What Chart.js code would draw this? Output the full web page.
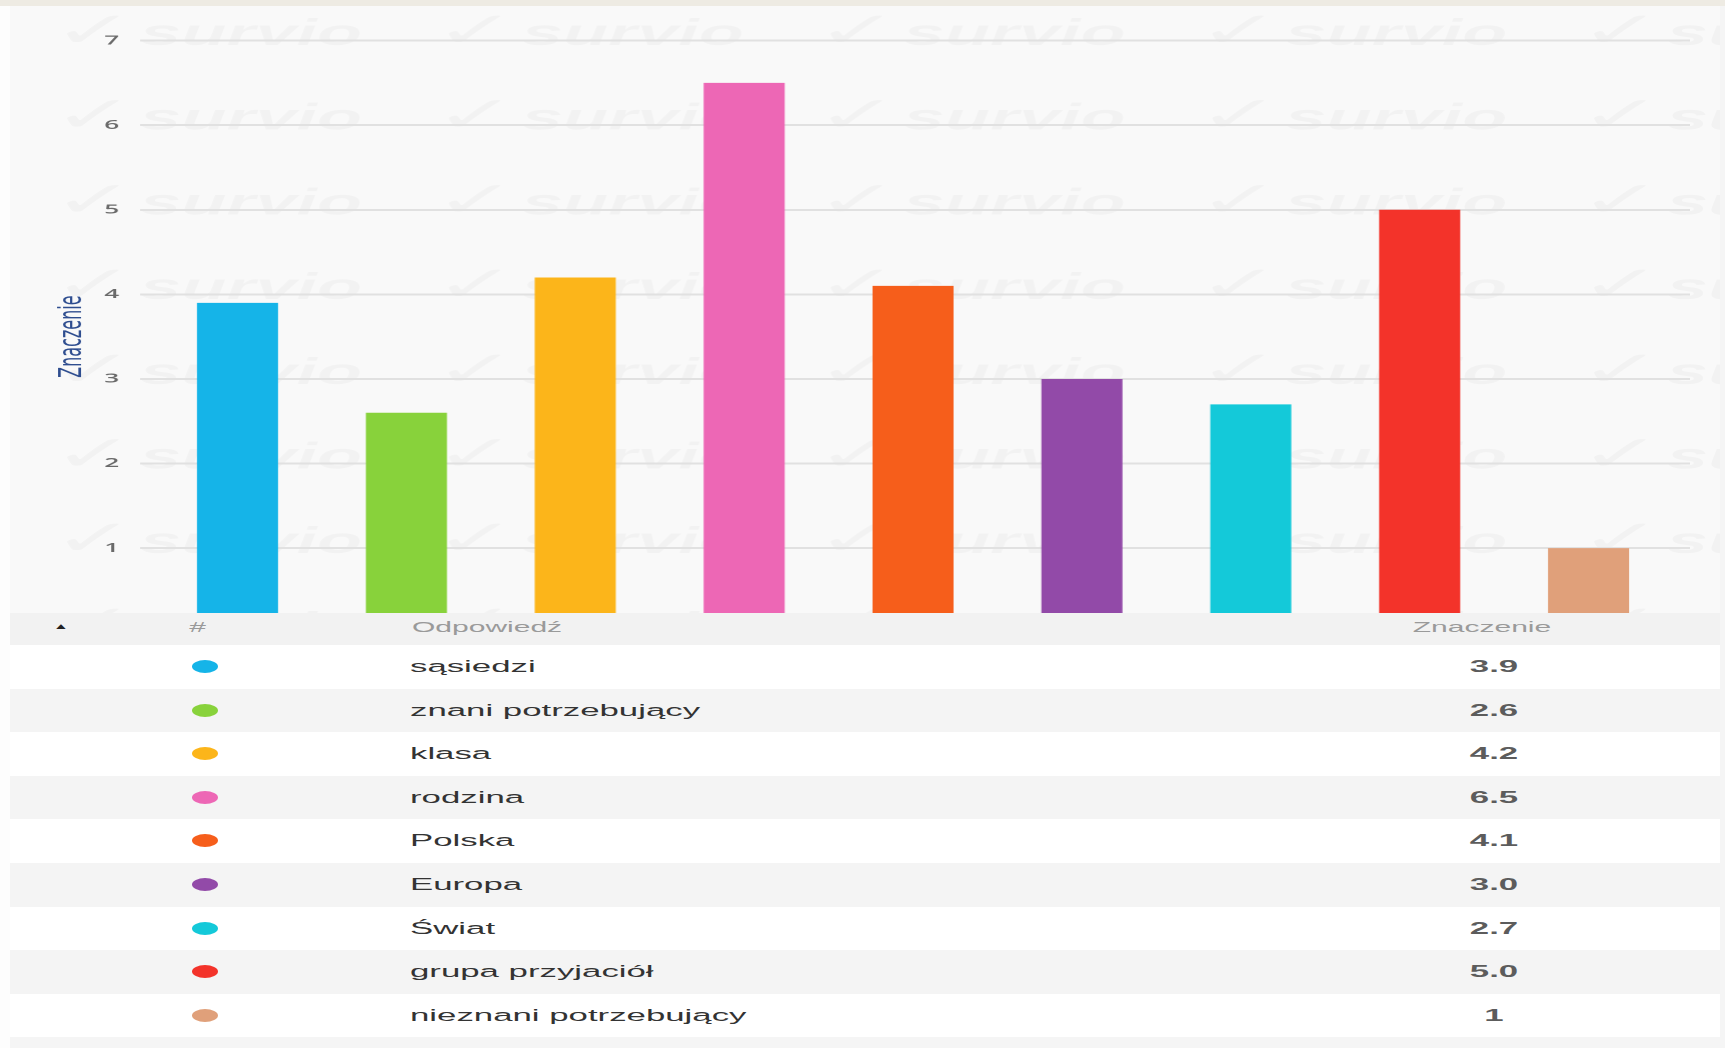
<!DOCTYPE html>
<html>
<head>
  <meta charset="utf-8">
  <title>Znaczenie</title>
  <script src="https://cdn.jsdelivr.net/npm/chart.js"></script>
  <style>
      body {
          margin: 0;
          background: #f5f5f5;
          overflow: hidden;
          font-family: "Liberation Sans", Arial, sans-serif;
      }
      /* the whole page is drawn narrow, then stretched sideways like the screenshot */
      #page {
          position: relative;
          width: 862.5px;
          height: 1048px;
          transform: scaleX(2);
          transform-origin: 0 0;
          background: #f5f5f5;
      }
      .topbar {
          position: absolute;
          left: 0; top: 0;
          width: 100%; height: 6px;
          background: #eeebe3;
      }
      .leftstrip {
          position: absolute;
          left: 0; top: 6px;
          width: 5px; height: 1042px;
          background: #fdfdfd;
      }
      .chart-box {
          position: absolute;
          left: 5px; top: 6px;
          width: 854.5px; height: 645px;
          background: #f9f9f9;
      }
      .results {
          position: absolute;
          left: 5px; top: 613px;
          width: 854.5px;
      }
      .head {
          position: relative;
          height: 32px;
          background: #f2f2f2;
          color: #9a9a9a;
          font-size: 15px;
          line-height: 28px;
      }
      .head span, .row span { position: absolute; }
      .caret { left: 21.5px; font-size: 8px; color: #222; }
      .hash { left: 89.6px; }
      .h-name { left: 201px; }
      .h-val { left: 736px; transform: translateX(-50%); }
      .row {
          position: relative;
          height: 43.6px;
          line-height: 43.6px;
          background: #ffffff;
          color: #333;
          font-size: 17.4px;
      }
      .row:nth-child(even) { background: #f4f4f4; }
      .dot {
          left: 90.5px; top: 15px;
          width: 13px; height: 13px;
          border-radius: 50%;
      }
      .name { left: 200px; }
      .val { left: 742px; transform: translateX(-50%); font-weight: bold; color: #5c5c5c; }
  </style>
</head>
<body>
  <div id="page">
      <div class="topbar"></div>
      <div class="leftstrip"></div>
      <div class="chart-box"><canvas id="chart"></canvas></div>
      <div class="results">
          <div class="head">
              <span class="caret">▲</span>
              <span class="hash">#</span>
              <span class="h-name">Odpowiedź</span>
              <span class="h-val">Znaczenie</span>
          </div>
          <div id="rows"></div>
      </div>
  </div>
  <script>
      const categories = ['sąsiedzi', 'znani potrzebujący', 'klasa', 'rodzina', 'Polska', 'Europa', 'Świat', 'grupa przyjaciół', 'nieznani potrzebujący'];
      const values = [3.9, 2.6, 4.2, 6.5, 4.1, 3.0, 2.7, 5.0, 1];
      const valueLabels = ['3.9', '2.6', '4.2', '6.5', '4.1', '3.0', '2.7', '5.0', '1'];
      const colors = ['#15b4e8', '#88d23b', '#fcb51a', '#ed67b5', '#f65e1b', '#924aa8', '#14c9d9', '#f3332a', '#e0a07a'];
      const yMin = 0, yMax = 7, yStep = 1;

      // table under the chart
      const rowsEl = document.getElementById('rows');
      categories.forEach((name, i) => {
          const row = document.createElement('div');
          row.className = 'row';
          row.innerHTML = '<span class="dot" style="background:' + colors[i] + '"></span>' +
              '<span class="name">' + name + '</span>' +
              '<span class="val">' + valueLabels[i] + '</span>';
          rowsEl.appendChild(row);
      });

      // faint "survio" watermark behind the grid
      const watermark = {
          id: 'watermark',
          beforeDraw(chart) {
              const ctx = chart.ctx;
              ctx.save();
              ctx.fillStyle = 'rgba(0, 0, 0, 0.026)';
              ctx.textBaseline = 'alphabetic';
              for (let r = 0; r < 8; r++) {
                  for (let c = 0; c < 5; c++) {
                      const x = 21 + c * 190.75, y = 39 + r * 84.7;
                      ctx.font = '50px "DejaVu Sans"';
                      ctx.fillText('✓', x, y + 2);
                      ctx.font = 'italic bold 37px "Liberation Sans"';
                      ctx.fillText('survio', x + 44, y);
                  }
              }
              ctx.restore();
          }
      };

      const gridColor = '#e1e1e1';
      new Chart(document.getElementById('chart'), {
          type: 'bar',
          data: {
              labels: categories,
              datasets: [{
                  data: values,
                  backgroundColor: colors,
                  barPercentage: 0.48,
                  categoryPercentage: 1.0
              }]
          },
          options: {
              responsive: true,
              maintainAspectRatio: false,
              animation: false,
              devicePixelRatio: 2,
              layout: { padding: { left: 0, right: 15, top: 34.6, bottom: 0 } },
              plugins: { legend: { display: false }, tooltip: { enabled: false } },
              scales: {
                  x: { display: false },
                  y: {
                      min: yMin, max: yMax,
                      ticks: { stepSize: yStep, padding: 10.5, color: '#6a6a6a', font: { family: 'Open Sans', size: 13, weight: '600' } },
                      grid: { color: gridColor, lineWidth: 2, tickLength: 6.5 },
                      border: { display: false },
                      title: { display: true, text: 'Znaczenie', color: '#2e4d8f', font: { family: 'DejaVu Sans', size: 16 }, padding: { top: 21.6, bottom: 0 } },
                      afterFit(scale) { scale.width = 71.5; }
                  },
                  y2: {
                      position: 'right',
                      min: yMin, max: yMax,
                      ticks: { stepSize: yStep, display: false },
                      grid: { color: gridColor, lineWidth: 2, tickLength: 8.5, drawOnChartArea: false },
                      border: { display: false },
                      afterFit(scale) { scale.width = 8.5; }
                  }
              }
          },
          plugins: [watermark]
      });
  </script>
</body>
</html>
